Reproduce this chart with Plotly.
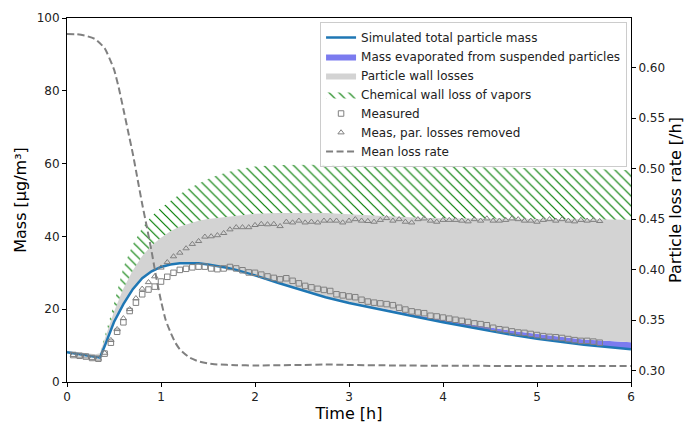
import plotly.graph_objects as go

# ---- simulated curves (time grid, hours) ----
t_sim = [0, 0.1, 0.2, 0.3, 0.35, 0.4, 0.45, 0.5, 0.6, 0.7, 0.8, 0.9, 1.0, 1.1, 1.2, 1.3, 1.4,
         1.5, 1.6, 1.7, 1.8, 1.9, 2.0, 2.25, 2.5, 2.75, 3.0, 3.25, 3.5, 3.75, 4.0, 4.25, 4.5,
         4.75, 5.0, 5.25, 5.5, 5.75, 6.0]
sim_total = [8.2, 7.8, 7.3, 6.9, 6.7, 9.8, 13.3, 16.5, 21.4, 25.5, 28.5, 30.4, 31.6, 32.3, 32.6,
             32.7, 32.6, 32.3, 31.9, 31.4, 30.8, 30.1, 29.3, 27.2, 25.2, 23.3, 21.7, 20.3, 19.0,
             17.7, 16.4, 15.2, 14.1, 12.9, 11.9, 11.0, 10.2, 9.6, 9.0]
evap_top = [8.2, 7.8, 7.3, 6.9, 6.7, 9.8, 13.3, 16.5, 21.4, 25.5, 28.5, 30.4, 31.6, 32.3, 32.6,
            32.7, 32.6, 32.3, 31.9, 31.4, 30.8, 30.1, 29.35, 27.3, 25.3, 23.45, 21.9, 20.6, 19.4,
            18.2, 17.0, 15.9, 15.0, 14.0, 13.1, 12.4, 11.7, 11.3, 10.9]
wall_top = [8.6, 8.3, 7.9, 7.6, 7.9, 11.5, 15.6, 19.3, 25.7, 30.6, 34.6, 37.5, 39.6, 41.4, 42.7,
            43.6, 44.3, 44.8, 45.1, 45.5, 45.8, 46.0, 46.2, 46.4, 46.5, 46.4, 46.1, 45.7, 45.3,
            45.1, 45.0, 44.9, 44.9, 44.8, 44.8, 44.7, 44.7, 44.6, 44.6]
vapor_top = [8.6, 8.3, 7.9, 7.6, 7.9, 12.3, 16.8, 21.5, 31.5, 37.8, 42.3, 45.6, 47.9, 49.8, 51.6,
             53.2, 54.6, 55.8, 56.8, 57.6, 58.3, 58.8, 59.2, 59.6, 59.7, 59.7, 59.6, 59.5, 59.3,
             59.2, 59.1, 59.0, 59.0, 58.9, 58.8, 58.7, 58.5, 58.4, 58.2]

# ---- mean particle loss rate (right axis) ----
t_rate = [0, 0.1, 0.2, 0.3, 0.4, 0.5, 0.55, 0.6, 0.65, 0.7, 0.75, 0.8, 0.85, 0.9, 0.95, 1.0,
          1.05, 1.1, 1.15, 1.2, 1.3, 1.4, 1.5, 1.6, 1.8, 2.0, 2.5, 2.75, 3.0, 3.5, 4.0, 5.0, 6.0]
loss_rate = [0.6335, 0.6333, 0.6318, 0.6285, 0.6195, 0.5985, 0.5805, 0.559, 0.537, 0.515, 0.490,
             0.465, 0.442, 0.418, 0.392, 0.369, 0.350, 0.338, 0.328, 0.321, 0.313, 0.309, 0.307,
             0.306, 0.3053, 0.305, 0.3055, 0.306, 0.3055, 0.305, 0.3047, 0.3045, 0.3045]

# ---- measurements ----
t_meas = [k / 15 for k in range(1, 86)]
measured = [7.4, 7.2, 7.0, 6.6, 6.4, 7.8, 10.8, 13.8, 16.4, 19.5, 21.8, 24.1, 25.4, 26.2, 27.6,
            28.9, 30.0, 30.8, 31.1, 31.5, 31.7, 31.7, 31.2, 31.0, 31.2, 31.6, 31.2, 30.7, 30.1,
            30.0, 29.5, 29.0, 28.6, 28.2, 28.5, 27.8, 27.1, 26.4, 26.0, 25.6, 25.3, 25.0, 24.1,
            23.8, 23.5, 23.3, 22.6, 22.1, 21.8, 21.6, 21.4, 21.1, 20.4, 19.9, 19.4, 19.1, 18.9,
            18.2, 18.0, 17.7, 17.4, 17.1, 16.8, 16.5, 16.1, 15.9, 15.6, 14.9, 14.5, 14.3, 13.9,
            13.6, 13.5, 13.2, 12.9, 12.6, 12.4, 12.3, 12.1, 11.8, 11.5, 11.3, 11.3, 11.1, 10.8]
meas_corr = [7.4, 7.2, 7.0, 6.6, 6.4, 8.0, 11.5, 14.5, 17.5, 20.0, 23.0, 25.6, 27.4, 29.0, 31.4,
             32.9, 34.5, 35.5, 36.7, 37.9, 38.7, 39.9, 40.0, 40.3, 40.9, 41.9, 42.5, 42.5, 42.5,
             43.1, 43.4, 43.3, 43.4, 42.8, 44.0, 43.8, 44.3, 43.8, 44.0, 43.8, 44.3, 44.3, 44.3,
             43.8, 44.3, 44.7, 44.3, 44.2, 44.0, 44.5, 45.0, 44.3, 44.7, 44.0, 43.8, 44.7, 44.9,
             44.3, 44.0, 44.5, 44.5, 44.5, 44.3, 44.1, 44.7, 44.3, 44.9, 44.3, 44.3, 44.5, 44.9,
             44.7, 44.3, 44.3, 44.0, 44.5, 44.7, 44.3, 44.7, 44.3, 44.1, 44.5, 44.3, 44.5, 44.2]

x_ticks = [0, 1, 2, 3, 4, 5, 6]
y_ticks = [0, 20, 40, 60, 80, 100]
rate_ticks = [0.30, 0.35, 0.40, 0.45, 0.50, 0.55, 0.60]

FONT = "DejaVu Sans"
fig = go.Figure()

fig.add_trace(go.Scatter(x=t_sim, y=sim_total, mode="lines", line=dict(width=0, color="#1f77b4"),
                         showlegend=False, hoverinfo="skip"))
fig.add_trace(go.Scatter(x=t_sim, y=evap_top, mode="lines", line=dict(width=0, color="#7b7bef"),
                         fill="tonexty", fillcolor="#7b7bef",
                         name="Mass evaporated from suspended particles", legendrank=2))
fig.add_trace(go.Scatter(x=t_sim, y=wall_top, mode="lines", line=dict(width=0, color="#d3d3d3"),
                         fill="tonexty", fillcolor="#d3d3d3",
                         name="Particle wall losses", legendrank=3))
fig.add_trace(go.Scatter(x=t_sim, y=vapor_top, mode="lines", line=dict(width=0, color="green"),
                         fill="tonexty", fillcolor="rgba(0,0,0,0)",
                         fillpattern=dict(shape="\\", fgcolor="#007a00", bgcolor="rgba(0,0,0,0)",
                                          size=7, solidity=0.17, fillmode="replace"),
                         name="Chemical wall loss of vapors", legendrank=4))
fig.add_trace(go.Scatter(x=t_sim, y=sim_total, mode="lines", line=dict(width=2.5, color="#1f77b4"),
                         name="Simulated total particle mass", legendrank=1))
fig.add_trace(go.Scatter(x=t_meas, y=measured, mode="markers",
                         marker=dict(symbol="square-open", size=5.5, color="#808080",
                                     line=dict(width=1, color="#808080")),
                         name="Measured", legendrank=5))
fig.add_trace(go.Scatter(x=t_meas, y=meas_corr, mode="markers",
                         marker=dict(symbol="triangle-up-open", size=5.5, color="#808080",
                                     line=dict(width=1, color="#808080")),
                         name="Meas, par. losses removed", legendrank=6))
fig.add_trace(go.Scatter(x=t_rate, y=loss_rate, mode="lines", yaxis="y2",
                         line=dict(color="#808080", width=2, dash="7px,3.5px", shape="spline",
                                   smoothing=0.5),
                         name="Mean loss rate", legendrank=7))

axis_common = dict(showgrid=False, zeroline=False, showline=True, linecolor="black", linewidth=1,
                   ticks="outside", ticklen=4, tickwidth=1, tickcolor="black", automargin=False,
                   tickfont=dict(family=FONT, size=12, color="#222"))

fig.update_layout(
    width=690, height=423,
    margin=dict(l=67, r=59, t=18, b=41, autoexpand=False),
    paper_bgcolor="white", plot_bgcolor="white",
    font=dict(family=FONT, size=12, color="black"),
    xaxis=dict(range=[0, 6], tickvals=x_ticks, mirror=True,
               title=dict(text="Time [h]", font=dict(family=FONT, size=16), standoff=3),
               **axis_common),
    yaxis=dict(range=[0, 100], tickvals=y_ticks, mirror=True,
               title=dict(text="Mass [μg/m³]", font=dict(family=FONT, size=16), standoff=6),
               **axis_common),
    yaxis2=dict(range=[0.2886, 0.6494], tickvals=rate_ticks,
                ticktext=[f"{v:.2f}" for v in rate_ticks], overlaying="y", side="right",
                anchor="x",
                title=dict(text="Particle loss rate [/h]", font=dict(family=FONT, size=16),
                           standoff=5),
                **axis_common),
    legend=dict(x=0.993, y=0.989, xanchor="right", yanchor="top", traceorder="normal",
                bgcolor="rgba(255,255,255,0.85)", bordercolor="#cccccc", borderwidth=1,
                font=dict(family=FONT, size=12, color="#222"), tracegroupgap=0,
                itemwidth=30),
    showlegend=True,
)

fig.write_html("out.html", config={"displayModeBar": False},
               post_script="document.body.style.margin='0';document.body.style.padding='0';")
